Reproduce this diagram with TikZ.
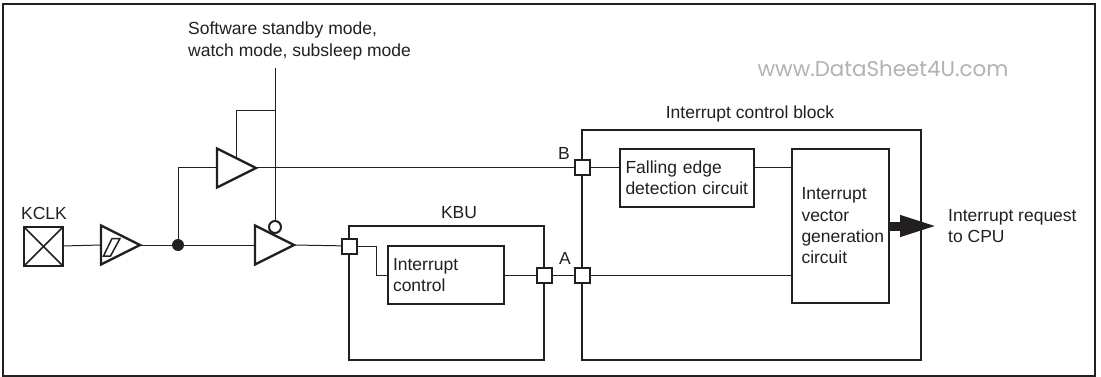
\documentclass[tikz,border=0pt]{standalone}
\usepackage{fontspec}
\setmainfont{Liberation Sans}
\newfontfamily\wmfont{Poppins}
\usetikzlibrary{shapes.geometric,arrows.meta}
\definecolor{ink}{HTML}{231F20}
\tikzset{
  lbl/.style={font=\fontsize{17.5}{21.3}\selectfont,text=ink,inner sep=0pt},
  blk/.style={draw=ink,line width=2.6pt,inner sep=0pt,outer sep=0pt},
  txtblk/.style={blk,lbl,align=left},
  port/.style={draw=ink,fill=white,line width=2pt,minimum size=15pt,inner sep=0pt,outer sep=0pt},
  buf/.style={draw=ink,line width=2.3pt,isosceles triangle,isosceles triangle apex angle=53.13,
    minimum height=39pt,inner sep=0pt,outer sep=0pt,anchor=west},
  wire/.style={draw=ink,line width=1pt}
}
\begin{document}
\begin{tikzpicture}[x=1pt,y=-1pt]
  \useasboundingbox (0,0) rectangle (1101,377);
  \draw[draw=ink,line width=2pt] (3,4) rectangle (1095,376);

  \node[blk,minimum width=39pt,minimum height=39pt] (kclk) at (43.5,246.5) {};
  \draw[wire,line width=1.5pt] (kclk.north west) -- (kclk.south east);
  \draw[wire,line width=1.5pt] (kclk.south west) -- (kclk.north east);
  \node[buf] (schm) at (101,245) {};
  \draw[draw=ink,line width=1.5pt] (103.5,256) -- (112,238.5) -- (120,238.5) -- (110.5,256) -- cycle;
  \node[circle,fill=ink,minimum size=12pt,inner sep=0pt,outer sep=0pt] (dot) at (178,245) {};
  \node[buf] (bufb) at (217,168) {};
  \node[buf] (bufa) at (255,245) {};
  \node[draw=ink,fill=white,circle,line width=2pt,minimum size=12pt,inner sep=0pt,outer sep=0pt] (bubble) at (275,227) {};

  \node[blk,minimum width=195pt,minimum height=134pt] (kbu) at (446.5,293) {};
  \node[blk,minimum width=339pt,minimum height=230pt] (icb) at (751.5,245) {};
  \node[txtblk,minimum height=58pt,text width=106pt,inner xsep=5pt] (ctrl) at (446,275) {Interrupt\\control};
  \node[txtblk,minimum height=58pt,text width=123pt,inner xsep=5.5pt] (fall) at (687,178) {Falling edge\\detection circuit};
  \node[txtblk,minimum height=154pt,text width=78pt,inner xsep=9.5pt] (vec) at (840.5,226) {Interrupt\\vector\\generation\\circuit};

  \node[port] (portk) at (349.5,246) {};
  \node[port] (portc) at (544,275) {};
  \node[port] (porta) at (582,275) {};
  \node[port] (portb) at (582,168) {};

  \coordinate (ctl) at (275,68);
  \coordinate (ctlb) at (275,111);
  \coordinate (cpu) at (939,226);

  \draw[wire] (kclk) -- (schm.west);
  \draw[wire] (schm.east) -- (dot);
  \draw[wire] (dot) -- (bufa.west);
  \draw[wire] (dot) |- (bufb.west);
  \draw[wire] (ctl) -- (bubble);
  \draw[wire] (ctlb) -| (bufb.left side);
  \draw[wire] (bufb.east) -- (portb);
  \draw[wire] (bufa.east) -- (portk);
  \draw[wire] (portk.east) -- ++(19,0) |- (ctrl.west);
  \draw[wire] (ctrl) -- (portc);
  \draw[wire] (portc) -- (porta);
  \draw[wire] (porta) -- (porta -| vec.west);
  \draw[wire] (portb) -- (portb -| fall.west);
  \draw[wire] (portb -| fall.east) -- (portb -| vec.west);
  \draw[draw=ink,line width=9pt,-{Triangle[length=39pt,width=19pt]}] (vec.east) -- (cpu);

  \node[lbl,anchor=west,align=left] (mode) at (188,41) {Software standby mode,\\watch mode, subsleep mode};
  \node[lbl] (kclklbl) at (44,213) {KCLK};
  \node[lbl] (kbulbl) at (459,213) {KBU};
  \node[lbl] (blbl) at (564,153) {B};
  \node[lbl] (albl) at (565,258) {A};
  \node[lbl] (icblbl) at (750,114) {Interrupt control block};
  \node[lbl,anchor=west,align=left] (req) at (948,226) {Interrupt request\\to CPU};
  \node[font=\fontsize{21.4}{23}\selectfont\wmfont,text=black!30,inner sep=0pt] (wm) at (883,69) {www.DataSheet4U.com};
\end{tikzpicture}
\end{document}
